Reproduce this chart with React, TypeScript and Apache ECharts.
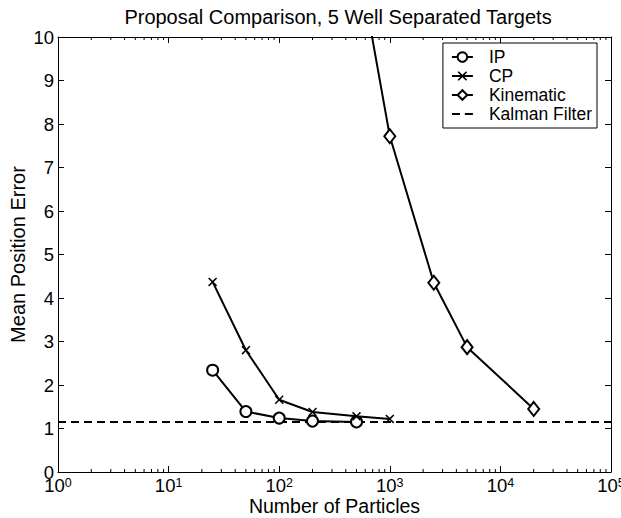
import React, { useEffect, useRef } from "react";
import * as echarts from "echarts";

const titleText = "Proposal Comparison, 5 Well Separated Targets";
const xName = "Number of Particles";
const yName = "Mean Position Error";

const ipX = [25, 50, 100, 200, 500];
const ipY = [2.34, 1.39, 1.24, 1.17, 1.15];
const cpX = [25, 50, 100, 200, 500, 1000];
const cpY = [4.37, 2.8, 1.66, 1.38, 1.28, 1.22];
const kinX = [500, 1000, 2500, 5000, 20000];
const kinY = [12.0, 7.72, 4.35, 2.87, 1.45];
const kalX = [1, 100000];
const kalY = [1.15, 1.15];

const minorTicks = [
  2, 3, 4, 5, 6, 7, 8, 9,
  20, 30, 40, 50, 60, 70, 80, 90,
  200, 300, 400, 500, 600, 700, 800, 900,
  2000, 3000, 4000, 5000, 6000, 7000, 8000, 9000,
  20000, 30000, 40000, 50000, 60000, 70000, 80000, 90000,
];

const FONT = "'Liberation Sans', Arial, Helvetica, sans-serif";
const X_PATH =
  "path://M0,1.2L1.2,0L5,3.8L8.8,0L10,1.2L6.2,5L10,8.8L8.8,10L5,6.2L1.2,10L0,8.8L3.8,5Z";
const DASH_ICON = "path://M0,0h8v2.2h-8zM13,0h8v2.2h-8z";

const zip = (xs: number[], ys: number[]) => xs.map((x, i) => [x, ys[i]]);

export default function App() {
  const ref = useRef<HTMLDivElement>(null);
  useEffect(() => {
    if (!ref.current) return;
    const chart = echarts.init(ref.current, undefined, { renderer: "svg" });
    const lineBase = {
      type: "line",
      xAxisIndex: 0,
      yAxisIndex: 0,
      lineStyle: { color: "#000", width: 2 },
      showAllSymbol: true,
      clip: true,
    };
    chart.setOption({
      animation: false,
      backgroundColor: "#fff",
      color: ["#000"],
      textStyle: { fontFamily: FONT, color: "#000" },
      title: {
        text: titleText,
        left: 338,
        textAlign: "center",
        top: 7,
        padding: 0,
        textStyle: { fontFamily: FONT, fontSize: 20, fontWeight: "normal", color: "#000" },
      },
      grid: {
        left: 58,
        right: 10,
        top: 37,
        bottom: 46,
        containLabel: false,
        outerBoundsMode: "none",
      },
      legend: {
        orient: "vertical",
        right: 24,
        top: 43,
        data: [
          { name: "IP" },
          { name: "CP" },
          { name: "Kinematic" },
          { name: "Kalman Filter", icon: DASH_ICON },
        ],
        backgroundColor: "#fff",
        borderColor: "#000",
        borderWidth: 1,
        borderRadius: 0,
        padding: [5, 5, 5, 8],
        itemWidth: 21,
        itemHeight: 12,
        itemGap: 1,
        textStyle: {
          fontFamily: FONT,
          fontSize: 17.5,
          color: "#000",
          lineHeight: 17,
          padding: [0, 0, 0, 11],
        },
      },
      xAxis: [
        {
          type: "log",
          logBase: 10,
          min: 1,
          max: 100000,
          position: "bottom",
          name: xName,
          nameLocation: "middle",
          nameGap: 24,
          nameMoveOverlap: false,
          nameTextStyle: { fontFamily: FONT, fontSize: 19.5, color: "#000" },
          axisLine: { show: true, onZero: false, lineStyle: { color: "#000", width: 1 } },
          axisTick: { show: true, inside: true, length: 6, lineStyle: { color: "#000" } },
          splitLine: { show: false },
          axisLabel: {
            margin: 4,
            color: "#000",
            formatter: (v: number) => "{b|10}{s|" + Math.round(Math.log10(v)) + "}",
            rich: {
              b: { fontFamily: FONT, fontSize: 18.5, color: "#000", verticalAlign: "bottom" },
              s: { fontFamily: FONT, fontSize: 12.5, color: "#000", verticalAlign: "top" },
            },
          },
        },
        {
          type: "log",
          logBase: 10,
          min: 1,
          max: 100000,
          position: "top",
          axisLine: { show: true, onZero: false, lineStyle: { color: "#000", width: 1 } },
          axisTick: { show: true, inside: true, length: 6, lineStyle: { color: "#000" } },
          axisLabel: { show: false },
          splitLine: { show: false },
        },
      ],
      yAxis: [
        {
          type: "value",
          min: 0,
          max: 10,
          interval: 1,
          position: "left",
          name: yName,
          nameLocation: "middle",
          nameGap: 30,
          nameMoveOverlap: false,
          nameTextStyle: { fontFamily: FONT, fontSize: 20, color: "#000" },
          axisLine: { show: true, onZero: false, lineStyle: { color: "#000", width: 1 } },
          axisTick: { show: true, inside: true, length: 6, lineStyle: { color: "#000" } },
          splitLine: { show: false },
          axisLabel: { margin: 4, fontFamily: FONT, fontSize: 18.5, color: "#000" },
        },
        {
          type: "value",
          min: 0,
          max: 10,
          interval: 1,
          position: "right",
          axisLine: { show: true, onZero: false, lineStyle: { color: "#000", width: 1 } },
          axisTick: { show: true, inside: true, length: 6, lineStyle: { color: "#000" } },
          axisLabel: { show: false },
          splitLine: { show: false },
        },
      ],
      series: [
        {
          ...lineBase,
          name: "IP",
          data: zip(ipX, ipY),
          symbol: "emptyCircle",
          symbolSize: 11,
          itemStyle: { color: "#000", borderColor: "#000", borderWidth: 2 },
        },
        {
          ...lineBase,
          name: "CP",
          data: zip(cpX, cpY),
          symbol: X_PATH,
          symbolSize: 9,
          itemStyle: { color: "#000", borderWidth: 0 },
        },
        {
          ...lineBase,
          name: "Kinematic",
          data: zip(kinX, kinY),
          symbol: "emptyDiamond",
          symbolSize: [11, 14],
          itemStyle: { color: "#000", borderColor: "#000", borderWidth: 2 },
        },
        {
          ...lineBase,
          name: "Kalman Filter",
          data: zip(kalX, kalY),
          symbol: "none",
          lineStyle: { color: "#000", width: 2, type: [8, 5] },
          itemStyle: { color: "#000" },
        },
        {
          type: "custom",
          name: "minorTicks",
          xAxisIndex: 0,
          yAxisIndex: 0,
          silent: true,
          clip: false,
          z: 10,
          data: minorTicks.map((v) => [v, 0]),
          encode: { x: 0, y: 1 },
          renderItem: (params: any, api: any) => {
            const px = api.coord([api.value(0), 0])[0];
            const cs = params.coordSys;
            const b = cs.y + cs.height;
            return {
              type: "group",
              children: [
                { type: "line", shape: { x1: px, y1: b, x2: px, y2: b - 3 }, style: { stroke: "#000", lineWidth: 1 } },
                { type: "line", shape: { x1: px, y1: cs.y, x2: px, y2: cs.y + 3 }, style: { stroke: "#000", lineWidth: 1 } },
              ],
            };
          },
        },
      ],
    });
    return () => chart.dispose();
  }, []);
  return (
    <div
      ref={ref}
      style={{ position: "fixed", left: 0, top: 0, width: 621, height: 518, background: "#fff" }}
    />
  );
}
